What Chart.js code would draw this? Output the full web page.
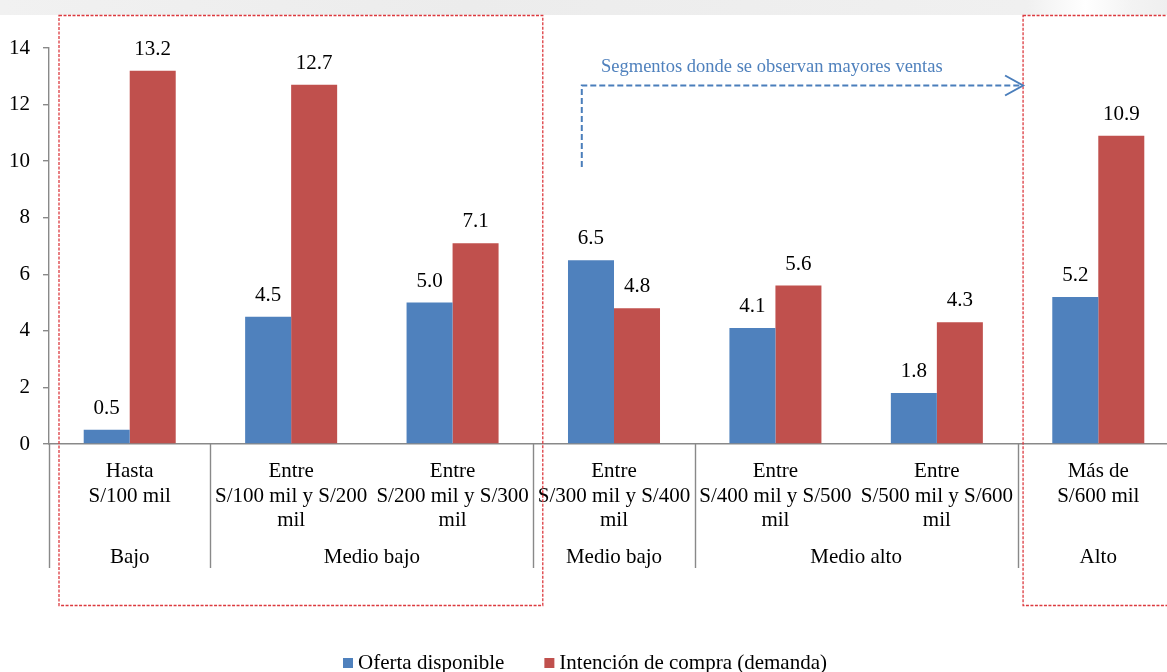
<!DOCTYPE html>
<html>
<head>
<meta charset="utf-8">
<script src="https://cdn.jsdelivr.net/npm/chart.js@4/dist/chart.umd.min.js"></script>
<style>
  html, body { margin: 0; padding: 0; background: #fff; overflow: hidden; }
  #wrap { position: relative; width: 1167px; height: 672px; overflow: hidden; background: #fff; }
  #band { position: absolute; left: 0; top: 0; width: 1167px; height: 15px;
          background: linear-gradient(to right, #f1f1f1 0%, #ececec 40%, #f0f0f0 88%, #ffffff 93%, #f3f3f3 97%, #efefef 100%); }
  canvas { position: absolute; left: 0; top: 0; }
</style>
</head>
<body>
<div id="wrap">
  <div id="band"></div>
  <canvas id="chart" width="1179" height="672"></canvas>
</div>
<script>
// Price ranges (one label line per entry)
const categories = [
  ["Hasta", "S/100 mil"],
  ["Entre", "S/100 mil y S/200", "mil"],
  ["Entre", "S/200 mil y S/300", "mil"],
  ["Entre", "S/300 mil y S/400", "mil"],
  ["Entre", "S/400 mil y S/500", "mil"],
  ["Entre", "S/500 mil y S/600", "mil"],
  ["Más de", "S/600 mil"]
];
// Socio-economic segment under each run of ranges
const groupLabels = ["Bajo", "Medio bajo", "Medio bajo", "Medio alto", "Alto"];
const groupSpans  = [1, 2, 1, 2, 1];

const seriesNames = ["Oferta disponible", "Intención de compra (demanda)"];
const oferta  = [0.5, 4.5, 5.0, 6.5, 4.1, 1.8, 5.2];
const demanda = [13.2, 12.7, 7.1, 4.8, 5.6, 4.3, 10.9];

const yMin = 0, yMax = 14, yStep = 2;
const noteText = "Segmentos donde se observan mayores ventas";

const SERIF = "'Liberation Serif', 'Times New Roman', serif";
const BLUE = "#4F81BD";
const RED = "#C0504D";
const AXIS = "#898989";

const decor = {
  id: "decor",
  afterDraw(chart) {
    const ctx = chart.ctx;
    const area = chart.chartArea;
    const x = chart.scales.x;
    const step = (area.right - area.left) / categories.length;
    const edge = i => area.left + i * step;

    ctx.save();

    // value labels above bars
    ctx.fillStyle = "#000";
    ctx.font = "21px " + SERIF;
    ctx.textAlign = "center";
    ctx.textBaseline = "alphabetic";
    chart.data.datasets.forEach((ds, di) => {
      chart.getDatasetMeta(di).data.forEach((bar, i) => {
        ctx.fillText(ds.data[i].toFixed(1), bar.x, bar.y - 16);
      });
    });

    // category labels
    categories.forEach((lines, i) => {
      const cx = x.getPixelForValue(i);
      lines.forEach((t, k) => ctx.fillText(t, cx, area.bottom + 33 + k * 24.5));
    });

    // group labels and separators
    ctx.strokeStyle = AXIS;
    ctx.lineWidth = 1.4;
    let start = 0;
    const seps = [0];
    groupLabels.forEach((g, gi) => {
      const end = start + groupSpans[gi];
      const cx = (edge(start) + edge(end)) / 2;
      ctx.fillText(g, cx, area.bottom + 119);
      seps.push(end);
      start = end;
    });
    seps.forEach(s => {
      const px = Math.round(edge(s)) + 0.5;
      if (px > area.right - 1) return;
      ctx.beginPath();
      ctx.moveTo(px, area.bottom);
      ctx.lineTo(px, area.bottom + 124);
      ctx.stroke();
    });

    // dotted highlight frames
    ctx.strokeStyle = "#dc3a3f";
    ctx.lineWidth = 1.3;
    ctx.setLineDash([3, 1.5]);
    const fTop = 15.5, fBot = 605.5;
    ctx.strokeRect(edge(0) + 10, fTop, edge(3) + 9.5 - (edge(0) + 10), fBot - fTop);
    const f2 = edge(6) + 5.5;
    ctx.strokeRect(f2, fTop, chart.width + 20 - f2, fBot - fTop);

    // dashed arrow with note
    const ax = edge(3) + 48.5, ay = 85.5, tip = f2;
    ctx.strokeStyle = "#4a7ebb";
    ctx.lineWidth = 2;
    ctx.setLineDash([6, 3]);
    ctx.beginPath();
    ctx.moveTo(ax, 167);
    ctx.lineTo(ax, ay);
    ctx.lineTo(tip - 2, ay);
    ctx.stroke();
    ctx.setLineDash([]);
    ctx.beginPath();
    ctx.moveTo(tip - 18, ay - 10);
    ctx.lineTo(tip, ay);
    ctx.lineTo(tip - 18, ay + 10);
    ctx.stroke();

    ctx.fillStyle = "#4f81bd";
    ctx.font = "18.5px " + SERIF;
    ctx.textAlign = "left";
    ctx.fillText(noteText, 601, 71.5);

    // legend
    ctx.font = "21px " + SERIF;
    ctx.fillStyle = "#000";
    const colors = [BLUE, RED];
    const w0 = ctx.measureText(seriesNames[0]).width;
    const w1 = ctx.measureText(seriesNames[1]).width;
    const total = 15 + w0 + 40 + 15 + w1;
    let lx = 585 - total / 2;
    seriesNames.forEach((n, i) => {
      ctx.fillStyle = colors[i];
      ctx.fillRect(lx, 658, 10, 10);
      ctx.fillStyle = "#000";
      ctx.fillText(n, lx + 15, 669);
      lx += 15 + (i === 0 ? w0 : w1) + 40;
    });

    ctx.restore();
  }
};

new Chart(document.getElementById("chart"), {
  type: "bar",
  data: {
    labels: categories.map(c => c.join(" ")),
    datasets: [
      { label: seriesNames[0], data: oferta, backgroundColor: BLUE, borderWidth: 0,
        categoryPercentage: 0.57, barPercentage: 1 },
      { label: seriesNames[1], data: demanda, backgroundColor: RED, borderWidth: 0,
        categoryPercentage: 0.57, barPercentage: 1 }
    ]
  },
  options: {
    responsive: false,
    animation: false,
    devicePixelRatio: 1,
    layout: { padding: { top: 48, bottom: 228, left: 0, right: 0 } },
    plugins: { legend: { display: false }, tooltip: { enabled: false } },
    scales: {
      x: {
        grid: { display: false },
        ticks: { display: false },
        border: { color: AXIS, width: 1.4 },
        afterFit(s) { s.height = 0; }
      },
      y: {
        min: yMin, max: yMax,
        ticks: { stepSize: yStep, color: "#000", padding: 13, font: { family: SERIF, size: 21 } },
        grid: { drawOnChartArea: false, drawTicks: true, tickLength: 6, color: AXIS, lineWidth: 1.4 },
        border: { color: AXIS, width: 1.4 },
        afterFit(s) { s.width = 49; }
      }
    }
  },
  plugins: [decor]
});
</script>
</body>
</html>
